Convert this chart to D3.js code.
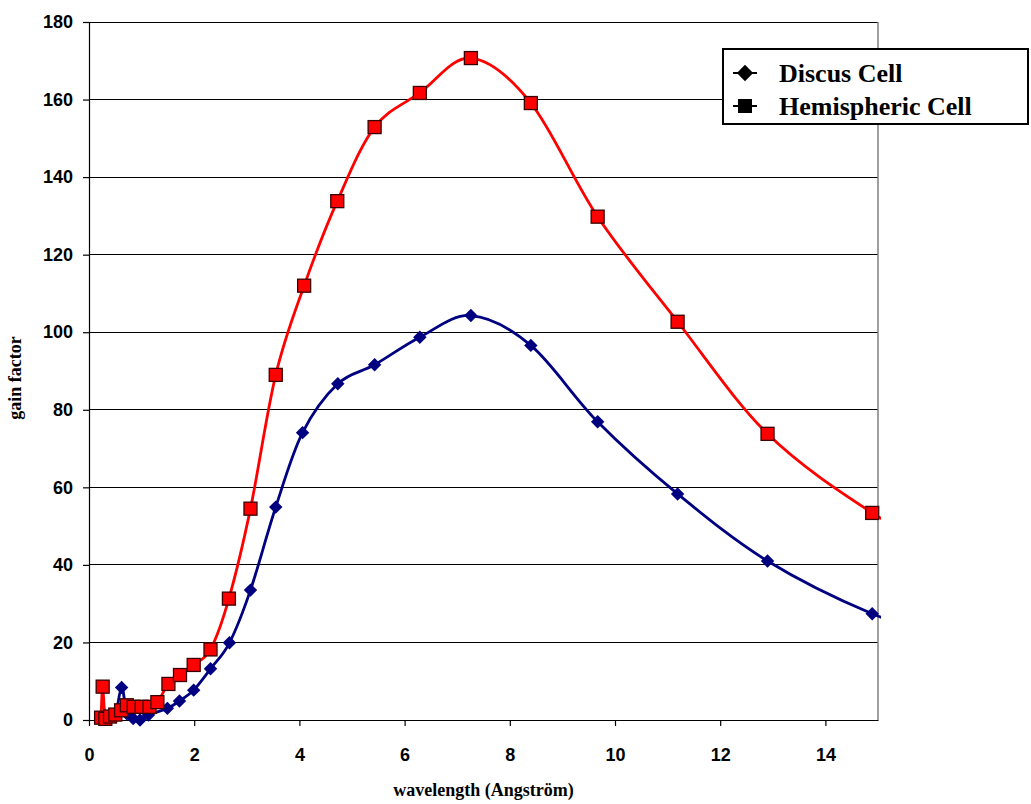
<!DOCTYPE html>
<html>
    <head>
        <meta charset="UTF-8">
        <title>Gain factor vs wavelength</title>
        <style>
            body { margin: 0; background: #fff; }
            svg { background-color: #fff; }
            .tick text { font-family: "Liberation Sans", Arial, sans-serif; font-weight: bold; font-size: 18px; }
            .title { font-family: "Liberation Serif", "Times New Roman", serif; font-weight: bold; }
            .line { fill: none; stroke-width: 2.8px; }
        </style>
    </head>
    <body>
        <script src="https://d3js.org/d3.v7.min.js"></script>
        <script type="text/javascript">

            // Discus cell (navy diamonds)
            var discusX = [0.23, 0.31, 0.40, 0.50, 0.62, 0.72, 0.84, 0.97, 1.13, 1.49, 1.72, 1.99, 2.31, 2.67, 3.07, 3.55, 4.06, 4.73, 5.43, 6.29, 7.26, 8.40, 9.67, 11.19, 12.90, 14.89, 16.6];
            var discusY = [0.3, 0.3, 0.5, 0.8, 8.4, 1.6, 0.4, 0.0, 1.3, 3.0, 4.9, 7.7, 13.2, 19.9, 33.5, 54.9, 74.1, 86.7, 91.6, 98.7, 104.3, 96.6, 76.9, 58.3, 41.0, 27.4, 20.0];

            // Hemispheric cell (red squares)
            var hemiX = [0.23, 0.26, 0.31, 0.40, 0.50, 0.61, 0.72, 0.85, 1.00, 1.15, 1.30, 1.51, 1.73, 1.99, 2.31, 2.66, 3.07, 3.55, 4.09, 4.72, 5.43, 6.29, 7.26, 8.40, 9.67, 11.19, 12.90, 14.89, 16.6];
            var hemiY = [0.6, 8.6, 0.3, 0.9, 1.4, 2.5, 3.8, 3.4, 3.4, 3.4, 4.6, 9.3, 11.6, 14.2, 18.2, 31.3, 54.5, 89.0, 112.0, 133.8, 152.9, 161.7, 170.7, 159.1, 129.8, 102.7, 73.8, 53.4, 41.0];

            var xTicks = [0, 2, 4, 6, 8, 10, 12, 14];
            var yTicks = [0, 20, 40, 60, 80, 100, 120, 140, 160, 180];
            var legendNames = ["Discus Cell", "Hemispheric Cell"];

            var margin = {top: 22, right: 153, bottom: 84, left: 89};
            var width = 1031 - margin.left - margin.right;
            var height = 804 - margin.top - margin.bottom;

            var svg = d3.select("body")
                .append("svg")
                .attr("width", 1031)
                .attr("height", 804);

            var g = svg.append("g")
                .attr("transform", "translate(" + margin.left + "," + margin.top + ")");

            var x = d3.scaleLinear().domain([0, 15]).range([0, width]);
            var y = d3.scaleLinear().domain([0, 180]).range([height, 0]);

            // gridlines
            g.append("g")
                .selectAll("line")
                .data(yTicks.slice(1))
                .enter().append("line")
                .attr("x1", 0).attr("x2", width)
                .attr("y1", function(d) { return y(d); })
                .attr("y2", function(d) { return y(d); })
                .attr("stroke", "#000")
                .attr("stroke-width", 1)
                .attr("shape-rendering", "crispEdges");

            // right border of plot area
            g.append("line")
                .attr("x1", width).attr("x2", width)
                .attr("y1", 0).attr("y2", height)
                .attr("stroke", "#808080")
                .attr("stroke-width", 1.5);

            var xAxis = d3.axisBottom(x).tickValues(xTicks).tickSize(6).tickSizeOuter(0).tickPadding(22);
            var yAxis = d3.axisLeft(y).tickValues(yTicks).tickSize(6).tickSizeOuter(0).tickPadding(10);

            g.append("g")
                .attr("class", "x axis")
                .attr("transform", "translate(0," + height + ")")
                .call(xAxis);

            g.append("g")
                .attr("class", "y axis")
                .call(yAxis);

            g.selectAll(".axis path, .axis line").attr("stroke", "#000").attr("stroke-width", 1.2);

            // clip so the smoothed lines stop just past the plot edge
            svg.append("defs").append("clipPath")
                .attr("id", "plotclip")
                .append("rect")
                .attr("x", -5).attr("y", -10)
                .attr("width", width + 8).attr("height", height + 20);

            var smooth = d3.line()
                .x(function(d) { return x(d[0]); })
                .y(function(d) { return y(d[1]); })
                .curve(d3.curveCardinal.tension(0));

            var discus = discusX.map(function(v, i) { return [v, discusY[i]]; });
            var hemi = hemiX.map(function(v, i) { return [v, hemiY[i]]; });
            var inRange = function(d) { return d[0] <= 15; };

            var lines = g.append("g").attr("clip-path", "url(#plotclip)");

            lines.append("path")
                .attr("class", "line")
                .attr("stroke", "#000080")
                .attr("d", smooth(discus));

            g.append("g")
                .selectAll("path")
                .data(discus.filter(inRange))
                .enter().append("path")
                .attr("transform", function(d) { return "translate(" + x(d[0]) + "," + y(d[1]) + ")"; })
                .attr("d", d3.symbol().type(d3.symbolDiamond2).size(115))
                .attr("fill", "#000080");

            var lines2 = g.append("g").attr("clip-path", "url(#plotclip)");

            lines2.append("path")
                .attr("class", "line")
                .attr("stroke", "#ff0000")
                .attr("d", smooth(hemi));

            g.append("g")
                .selectAll("rect")
                .data(hemi.filter(inRange))
                .enter().append("rect")
                .attr("x", function(d) { return x(d[0]) - 6.5; })
                .attr("y", function(d) { return y(d[1]) - 6.5; })
                .attr("width", 13).attr("height", 13)
                .attr("fill", "#ff0000")
                .attr("stroke", "#3a0000")
                .attr("stroke-width", 1.3);

            // axis titles
            svg.append("text")
                .attr("class", "title")
                .attr("x", margin.left + width / 2)
                .attr("y", 796)
                .attr("text-anchor", "middle")
                .attr("font-size", "18px")
                .text("wavelength (Angstr\u00f6m)");

            svg.append("text")
                .attr("class", "title")
                .attr("transform", "translate(21,378) rotate(-90)")
                .attr("text-anchor", "middle")
                .attr("font-size", "18px")
                .text("gain factor");

            // legend
            var legend = svg.append("g").attr("transform", "translate(723,49)");
            legend.append("rect")
                .attr("width", 305).attr("height", 75)
                .attr("fill", "#fff")
                .attr("stroke", "#000")
                .attr("stroke-width", 2);

            legendNames.forEach(function(name, i) {
                var cy = 24 + i * 33;
                legend.append("line")
                    .attr("x1", 10).attr("x2", 34)
                    .attr("y1", cy).attr("y2", cy)
                    .attr("stroke", "#000").attr("stroke-width", 2);
                if (i === 0) {
                    legend.append("path")
                        .attr("transform", "translate(22," + cy + ")")
                        .attr("d", d3.symbol().type(d3.symbolDiamond2).size(170))
                        .attr("fill", "#000");
                } else {
                    legend.append("rect")
                        .attr("x", 15).attr("y", cy - 7)
                        .attr("width", 14).attr("height", 14)
                        .attr("fill", "#000");
                }
                legend.append("text")
                    .attr("class", "title")
                    .attr("x", 56)
                    .attr("y", cy + 9)
                    .attr("font-size", "26px")
                    .text(name);
            });
        </script>
    </body>
</html>
